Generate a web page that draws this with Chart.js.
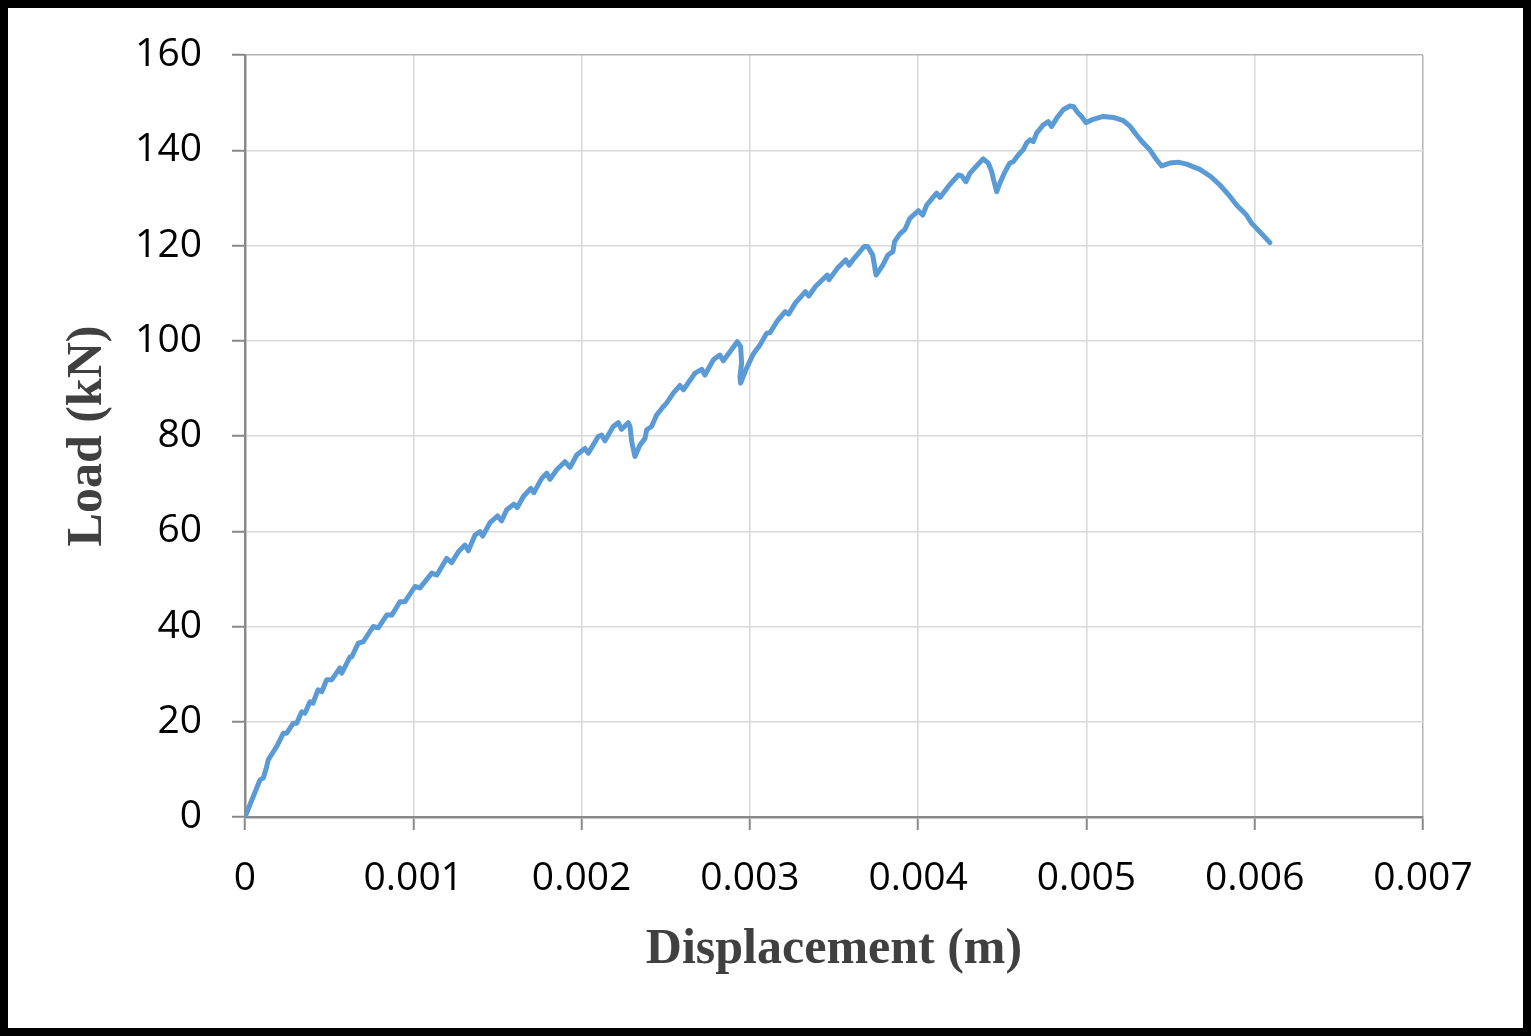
<!DOCTYPE html>
<html>
<head>
<meta charset="utf-8">
<script src="https://cdn.jsdelivr.net/npm/chart.js@4"></script>
<style>
  html, body { margin: 0; padding: 0; background: #fff; }
  #frame { width: 1531px; height: 1036px; box-sizing: border-box; border: 8px solid #000; }
  #chart { display: block; }
</style>
</head>
<body>
<div id="frame"><canvas id="chart" width="1515" height="1020"></canvas></div>
<script>
// displacement (m) and load (kN)
const displacement = [
  0, 0.0000891, 0.000109, 0.000129, 0.000138, 0.000188, 0.000228, 0.000248, 0.000287, 0.000307,
  0.000337, 0.000356, 0.000386, 0.000404, 0.000434, 0.000456, 0.000485, 0.000515, 0.000564, 0.000575,
  0.000624, 0.000634, 0.000673, 0.000703, 0.000762, 0.000792, 0.000842, 0.000872, 0.000921, 0.000951,
  0.00101, 0.00104, 0.00111, 0.00114, 0.001198, 0.001228, 0.001268, 0.001307, 0.001327, 0.001367,
  0.001396, 0.001412, 0.001456, 0.0015, 0.001525, 0.001555, 0.001598, 0.001618, 0.001654, 0.001698,
  0.001717, 0.001763, 0.001793, 0.001812, 0.001852, 0.001901, 0.001931, 0.001971, 0.00202, 0.00204,
  0.002099, 0.002119, 0.002139, 0.002188, 0.002218, 0.002238, 0.002277, 0.002288, 0.002298, 0.002317,
  0.002347, 0.002377, 0.002387, 0.002416, 0.002446, 0.002486, 0.002505, 0.002545, 0.002585, 0.002605,
  0.002674, 0.002714, 0.002733, 0.002783, 0.002822, 0.002842, 0.002882, 0.002925, 0.002945, 0.002951,
  0.002941, 0.002945, 0.00298, 0.00302, 0.00306, 0.0031, 0.00312, 0.00316, 0.00321, 0.00323,
  0.00327, 0.00333, 0.00335, 0.00339, 0.00346, 0.00347, 0.00352, 0.00357, 0.00359, 0.00362,
  0.00368, 0.0037, 0.00373, 0.00375, 0.00379, 0.00382, 0.00385, 0.00386, 0.00389, 0.003922,
  0.003951, 0.004001, 0.004027, 0.004051, 0.00411, 0.00413, 0.004179, 0.004239, 0.004259, 0.004284,
  0.004308, 0.004387, 0.004417, 0.004437, 0.004447, 0.004467, 0.004486, 0.004516, 0.004545, 0.004565,
  0.004595, 0.004624, 0.004644, 0.004664, 0.004684, 0.004704, 0.004743, 0.004773, 0.004793, 0.004823,
  0.004862, 0.004902, 0.004922, 0.004951, 0.004971, 0.004997, 0.00504, 0.0051, 0.00516, 0.00522,
  0.00526, 0.005298, 0.005338, 0.005377, 0.005417, 0.005447, 0.005496, 0.005546, 0.005595, 0.005674,
  0.005734, 0.005793, 0.005853, 0.005892, 0.005951, 0.005981, 0.00603, 0.00609
];
const load = [
  0, 7.8, 8.2, 10.6, 12.0, 14.8, 17.6, 17.6, 19.7, 19.7,
  22.1, 21.8, 24.2, 23.9, 26.7, 26.3, 28.8, 28.8, 31.3, 30.2,
  33.6, 33.6, 36.5, 36.8, 40.0, 39.7, 42.4, 42.4, 45.2, 45.2,
  48.4, 48.1, 51.2, 50.8, 54.3, 53.4, 55.7, 57.1, 55.9, 59.2,
  59.9, 59.0, 61.8, 63.2, 62.2, 64.5, 65.7, 65.0, 67.3, 69.0,
  68.1, 71.1, 72.2, 70.9, 72.9, 74.6, 73.4, 76.0, 77.4, 76.4,
  79.9, 80.2, 79.0, 82.0, 82.8, 81.4, 82.8, 82.0, 78.8, 75.7,
  78.1, 79.5, 81.3, 82.0, 84.4, 86.2, 86.9, 89.0, 90.6, 89.7,
  93.2, 94.0, 92.8, 96.0, 97.0, 95.8, 97.7, 99.8, 98.8, 95.3,
  92.5, 91.1, 94.2, 97.2, 99.1, 101.6, 101.7, 104.0, 106.1, 105.6,
  107.9, 110.3, 109.4, 111.4, 113.8, 112.8, 115.2, 117.0, 115.9, 117.3,
  119.8, 119.8, 118.0, 113.8, 115.9, 118.0, 118.7, 120.8, 122.4, 123.4,
  125.7, 127.3, 126.4, 128.5, 131.0, 130.1, 132.4, 134.8, 134.6, 133.4,
  135.2, 138.2, 137.3, 135.5, 134.0, 131.3, 133.1, 135.5, 137.3, 137.6,
  139.0, 140.1, 141.5, 142.2, 141.8, 143.6, 145.3, 146.0, 145.0, 146.7,
  148.5, 149.3, 149.2, 147.8, 147.1, 145.8, 146.5, 147.1, 146.9, 146.2,
  145.0, 143.2, 141.5, 140.1, 138.0, 136.7, 137.3, 137.5, 137.1, 136.0,
  134.6, 132.7, 130.3, 128.5, 126.4, 124.7, 122.9, 120.6
];
const xTicks = [0, 0.001, 0.002, 0.003, 0.004, 0.005, 0.006, 0.007];
const yTicks = [0, 20, 40, 60, 80, 100, 120, 140, 160];

const points = displacement.map((d, i) => ({ x: d, y: load[i] }));

const tickFont = { family: '"Open Sans", sans-serif', size: 39 };
const titleFont = { family: '"Liberation Serif", "Times New Roman", serif', size: 50, weight: 'bold' };
const axisGrey = '#898989';

const ctx = document.getElementById('chart').getContext('2d');
const chart = new Chart(ctx, {
  type: 'line',
  data: {
    datasets: [{
      data: points,
      borderColor: '#5B9BD5',
      borderWidth: 5,
      pointRadius: 0,
      tension: 0,
      borderJoinStyle: 'round',
      borderCapStyle: 'round',
      fill: false
    }]
  },
  options: {
    responsive: false,
    animation: false,
    layout: { padding: { left: 0, top: 47, right: 100, bottom: 0 } },
    plugins: { legend: { display: false }, tooltip: { enabled: false } },
    scales: {
      x: {
        type: 'linear',
        min: 0, max: 0.007,
        afterBuildTicks: s => { s.ticks = xTicks.map(v => ({ value: v })); },
        afterFit: s => { s.height = 211; },
        ticks: {
          font: tickFont, color: '#000', padding: 25, maxRotation: 0,
          callback: v => v === 0 ? '0' : v.toFixed(3)
        },
        grid: {
          color: c => c.index === xTicks.length - 1 ? '#B4B4B4' : '#D9D9D9',
          lineWidth: 1.5,
          tickColor: axisGrey, tickLength: 13, tickWidth: 2
        },
        border: { color: axisGrey, width: 2.5 },
        title: { display: true, text: 'Displacement (m)', font: titleFont, color: '#404040', padding: { top: 0, bottom: 48 } }
      },
      y: {
        min: 0, max: 160,
        afterBuildTicks: s => { s.ticks = yTicks.map(v => ({ value: v })); },
        afterFit: s => { s.width = 237; },
        ticks: { font: { ...tickFont, lineHeight: 0.8 }, color: '#000', padding: 30 },
        grid: {
          color: c => c.index === yTicks.length - 1 ? '#B4B4B4' : '#D9D9D9',
          lineWidth: 1.5,
          tickColor: axisGrey, tickLength: 13, tickWidth: 2
        },
        border: { color: axisGrey, width: 2.5 },
        title: { display: true, text: 'Load (kN)', font: titleFont, color: '#404040', padding: { top: 50, bottom: 0 } }
      }
    }
  }
});
</script>
</body>
</html>
